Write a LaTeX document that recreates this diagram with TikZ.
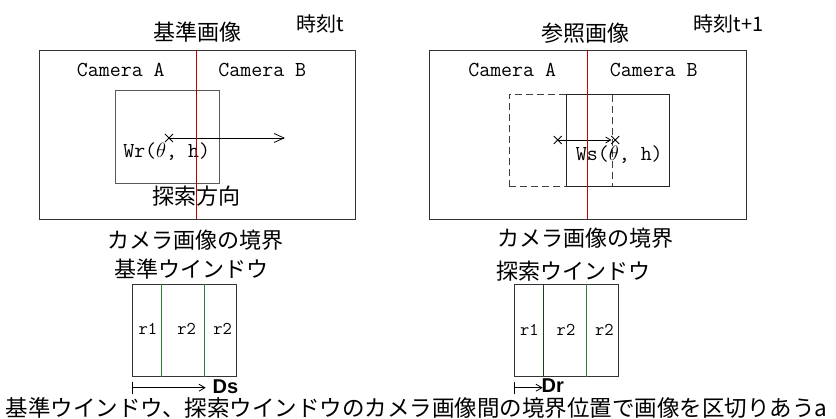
\documentclass[tikz,border=0pt]{standalone}
\usepackage{fontspec}
\newfontfamily\cjk{Noto Sans CJK JP}
\newfontfamily\lsans{Liberation Sans}
\usetikzlibrary{arrows.meta,shapes.misc}
\definecolor{frameg}{HTML}{333333}
\definecolor{redl}{HTML}{C00000}
\definecolor{greenl}{HTML}{2E7D32}
\definecolor{dgreenl}{HTML}{1E3F1E}
\begin{document}
\begin{tikzpicture}[x=1pt,y=-1pt,
  box/.style={draw=frameg, line width=0.9pt, inner sep=0pt, outer sep=0pt, anchor=north west},
  jp/.style={font=\cjk\fontsize{22}{24}\selectfont, inner sep=0pt},
  jps/.style={font=\cjk\fontsize{20}{22}\selectfont, inner sep=0pt},
  lat/.style={font=\ttfamily\fontsize{21.3}{23}\selectfont, inner sep=0pt},
  rl/.style={font=\ttfamily\fontsize{18}{20}\selectfont, inner sep=0pt},
  dlab/.style={font=\lsans\bfseries\fontsize{20}{22}\selectfont, inner sep=0pt},
  xmark/.style={cross out, draw=black, line width=0.9pt, minimum size=7pt, inner sep=0pt},
  redline/.style={draw=redl, line width=1.1pt},
  divline/.style={line width=1.1pt},
  arr/.style={line width=0.8pt, -{Straight Barb[length=10pt,width=9pt]}},
  sarr/.style={line width=0.8pt, -{Straight Barb[length=5pt,width=6pt]}},
  darr/.style={line width=0.8pt, {Bar[width=12pt]}-{Straight Barb[length=6pt,width=7pt]}}
]
\useasboundingbox (0,0) rectangle (836,419);

% ---------- left: reference image ----------
\node[jps] (tL) at (320,24) {時刻t};
\node[jp] (titleL) at (197.5,32) {基準画像};
\node[box, minimum width=316pt, minimum height=169pt] (imgL) at (39,50) {};
\node[lat] (camAL) at (120.8,70) {Camera A};
\node[lat] (camBL) at (262.3,70) {Camera B};
\node[box, draw=black!65, minimum width=103.6pt, minimum height=93pt] (winL) at (115.7,90.7) {};
\node[lat] (wr) at (166.7,152) {Wr($\theta$, h)};
\node[jp] (dir) at (196.7,196) {探索方向};
\node[xmark] (xL) at (169,138) {};
\coordinate (arrL) at (285,138);
\draw[arr] (xL.center) -- (arrL);
\draw[redline] (196.5,0 |- imgL.north) -- (196.5,0 |- imgL.south);
\node[jp] (bndL) at (195,240.5) {カメラ画像の境界};

% ---------- right: search image ----------
\node[jps] (tR) at (728.5,24) {時刻t+1};
\node[jp] (titleR) at (585.7,33) {参照画像};
\node[box, minimum width=316.7pt, minimum height=169.3pt] (imgR) at (429.3,50) {};
\node[lat] (camAR) at (512.2,70) {Camera A};
\node[lat] (camBR) at (653.7,70) {Camera B};
\node[box, draw=black!75, dashed, dash pattern=on 7pt off 4pt, minimum width=103.4pt, minimum height=92pt] (dashR) at (509.3,94) {};
\node[box, draw=black!85, minimum width=103.3pt, minimum height=92pt] (winR) at (566,94) {};
\node[lat] (ws) at (619.3,155) {Ws($\theta$, h)};
\node[xmark] (xR1) at (557.7,140) {};
\node[xmark] (xR2) at (615.3,140) {};
\draw[sarr] (xR1.center) -- (xR2.west);
\draw[redline] (587.5,0 |- imgR.north) -- (587.5,0 |- imgR.south);
\node[jp] (bndR) at (585.7,238.5) {カメラ画像の境界};

% ---------- bottom left window ----------
\node[jp] (wnL) at (191.7,269.5) {基準ウインドウ};
\node[box, minimum width=104.4pt, minimum height=92.7pt] (sL) at (132.3,284) {};
\draw[divline, draw=greenl] (161.5,0 |- sL.north) -- (161.5,0 |- sL.south);
\draw[divline, draw=greenl] (204.5,0 |- sL.north) -- (204.5,0 |- sL.south);
\node[rl] (l1) at (147.8,329) {r1};
\node[rl] (l2) at (186.7,329) {r2};
\node[rl] (l3) at (222.7,329) {r2};
\coordinate (dsS) at (132.3,387.7);
\coordinate (dsE) at (205.7,387.7);
\draw[darr] (dsS) -- (dsE);
\node[dlab] (ds) at (225.5,386.5) {Ds};

% ---------- bottom right window ----------
\node[jp] (wnR) at (573.5,271) {探索ウインドウ};
\node[box, minimum width=104pt, minimum height=92.7pt] (sR) at (514.3,284) {};
\draw[divline, draw=dgreenl] (543.5,0 |- sR.north) -- (543.5,0 |- sR.south);
\draw[divline, draw=greenl, line width=1.5pt] (586.5,0 |- sR.north) -- (586.5,0 |- sR.south);
\node[rl] (m1) at (529.3,330) {r1};
\node[rl] (m2) at (566,330) {r2};
\node[rl] (m3) at (604.3,330) {r2};
\coordinate (drS) at (514.3,387.7);
\coordinate (drE) at (542.7,387.7);
\draw[darr] (drS) -- (drE);
\node[dlab] (dr) at (552.7,386) {Dr};

% ---------- caption ----------
\node[font=\cjk\fontsize{22.5}{24}\selectfont, inner sep=0pt] (cap) at (416.5,407.5) {基準ウインドウ、探索ウインドウのカメラ画像間の境界位置で画像を区切りあうa};
\end{tikzpicture}
\end{document}
